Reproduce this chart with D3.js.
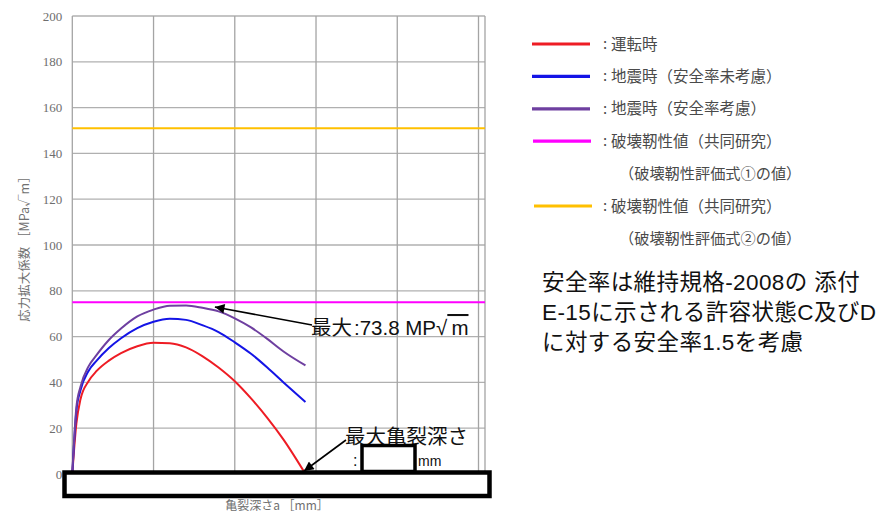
<!DOCTYPE html>
<html lang="ja">
<head>
<meta charset="UTF-8">
<title>応力拡大係数</title>
<script src="https://cdn.jsdelivr.net/npm/d3@7/dist/d3.min.js"></script>
<style>
  html, body { margin: 0; padding: 0; background: #fff; }
  svg { display: block; }
</style>
</head>
<body>
<div class="chart"></div>
<script>
  // crack depth (grid units), and K values
  const crackDepth = [0, 0.05, 0.1, 0.2, 0.3, 0.45, 0.6, 0.8, 1.0, 1.2, 1.4, 1.6, 1.8, 2.0, 2.2, 2.4, 2.6, 2.87]
  const kOperation = [0, 22, 32.5, 40.5, 45, 49.5, 52.8, 55.8, 57.3, 57.1, 55.3, 51.5, 46.5, 40.5, 33, 24.5, 15, 0]
  const kQuake = [0, 27.5, 36.5, 45, 49.5, 55, 59.3, 63.7, 66.5, 67.8, 67.3, 65, 62, 57.5, 52.5, 46.5, 40, 31.4]
  const kQuakeSafety = [0, 29, 38, 47, 52, 58.5, 63.5, 68.8, 71.8, 73.5, 73.6, 72.6, 71, 68, 64, 59, 53.5, 47.4]
  const toughness1 = 75
  const toughness2 = 151
  const yTicks = [0, 20, 40, 60, 80, 100, 120, 140, 160, 180, 200]
  const xTicks = [0, 1, 2, 3, 4, 5]
  const seriesNames = ['運転時', '地震時（安全率未考慮）', '地震時（安全率考慮）', '破壊靭性値（共同研究）', '破壊靭性値（共同研究）']
  const seriesNotes = ['', '', '', '（破壊靭性評価式①の値）', '（破壊靭性評価式②の値）']
  const noteLines = ['安全率は維持規格-2008の 添付', 'E-15に示される許容状態C及びD', 'に対する安全率1.5を考慮']

  const width = 889
  const height = 516
  const plot = { left: 72.3, right: 485, top: 16, bottom: 474 }
  const colors = ['#ee1c24', '#1414e6', '#6e3fa0', '#ff00ff', '#ffc000']

  const xScale = d3.scaleLinear().domain([0, 5.08]).range([plot.left, plot.right])
  const yScale = d3.scaleLinear().domain([0, 200]).range([plot.bottom, plot.top])

  const svg = d3.select('.chart')
    .append('svg')
    .attr('width', width)
    .attr('height', height)

  const defs = svg.append('defs')
  defs.append('marker')
    .attr('id', 'arrow')
    .attr('viewBox', '0 0 10 10')
    .attr('refX', 10)
    .attr('refY', 5)
    .attr('markerWidth', 9)
    .attr('markerHeight', 6)
    .attr('markerUnits', 'strokeWidth')
    .attr('orient', 'auto')
    .append('path')
    .attr('d', 'M0,0 L10,5 L0,10 z')
    .attr('fill', '#000')

  // grid
  const grid = svg.append('g')
  grid.selectAll('.hgrid')
    .data(yTicks)
    .enter()
    .append('line')
    .attr('x1', plot.left)
    .attr('x2', plot.right)
    .attr('y1', d => yScale(d))
    .attr('y2', d => yScale(d))
    .attr('stroke', '#b0b0b0')
    .attr('stroke-width', 1.3)
  grid.selectAll('.vgrid')
    .data(xTicks.concat([5.08]))
    .enter()
    .append('line')
    .attr('x1', d => xScale(d))
    .attr('x2', d => xScale(d))
    .attr('y1', plot.top)
    .attr('y2', plot.bottom)
    .attr('stroke', '#a4a4a4')
    .attr('stroke-width', 1.3)

  // y axis labels
  const yAxis = d3.axisLeft(yScale).tickValues(yTicks).tickSize(0).tickPadding(10)
  const gY = svg.append('g')
    .attr('transform', `translate(${plot.left}, 0)`)
    .call(yAxis)
  gY.select('.domain').remove()
  gY.selectAll('text')
    .style('font-family', '"Liberation Serif", "DejaVu Serif", serif')
    .style('font-size', '13px')
    .attr('fill', '#6e6e6e')

  svg.append('text')
    .attr('transform', `translate(29, 246) rotate(-90)`)
    .attr('text-anchor', 'middle')
    .attr('font-family', 'Noto Sans CJK JP, sans-serif')
    .attr('font-size', 12.5)
    .attr('fill', '#707070')
    .text('応力拡大係数 ［MPa√m］')

  // toughness reference lines
  svg.selectAll('.ref')
    .data([toughness1, toughness2])
    .enter()
    .append('line')
    .attr('x1', plot.left)
    .attr('x2', plot.right)
    .attr('y1', d => yScale(d))
    .attr('y2', d => yScale(d))
    .attr('stroke', (d, i) => colors[3 + i])
    .attr('stroke-width', 2)

  // K curves
  const series = [kOperation, kQuake, kQuakeSafety]
  const linePath = d3.line()
    .x((d, i) => xScale(crackDepth[i]))
    .y(d => yScale(d))
    .curve(d3.curveMonotoneX)
  svg.selectAll('.curve')
    .data(series)
    .enter()
    .append('path')
    .attr('d', d => linePath(d))
    .attr('fill', 'none')
    .attr('stroke', (d, i) => colors[i])
    .attr('stroke-width', 2)

  // big black box over the x axis
  svg.append('rect')
    .attr('x', 64.5)
    .attr('y', 472.5)
    .attr('width', 425)
    .attr('height', 23.5)
    .attr('fill', '#fff')
    .attr('stroke', '#000')
    .attr('stroke-width', 4.5)

  svg.append('text')
    .attr('x', 277)
    .attr('y', 510)
    .attr('text-anchor', 'middle')
    .attr('font-family', 'Noto Sans CJK JP, sans-serif')
    .attr('font-size', 12)
    .attr('fill', '#707070')
    .text('亀裂深さa ［mm］')

  // annotations
  const labelFont = 'Liberation Sans, Arial, Noto Sans CJK JP, sans-serif'
  const peakTip = [xScale(1.755), yScale(72.9)]
  svg.append('line')
    .attr('x1', 312)
    .attr('y1', 325)
    .attr('x2', peakTip[0])
    .attr('y2', peakTip[1])
    .attr('stroke', '#000')
    .attr('stroke-width', 1.6)
    .attr('marker-end', 'url(#arrow)')
  const maxText = svg.append('text')
    .attr('x', 311)
    .attr('y', 335)
    .attr('font-family', labelFont)
    .attr('font-size', 20.5)
    .attr('fill', '#111')
  maxText.append('tspan').text('最大')
  maxText.append('tspan').attr('dx', 2).text(':73.8 MP√')
  maxText.append('tspan').attr('text-decoration', 'overline').text('\u2009m')

  const endTip = [xScale(2.84), yScale(0)]
  svg.append('line')
    .attr('x1', 346)
    .attr('y1', 440)
    .attr('x2', endTip[0] + 1)
    .attr('y2', endTip[1] - 3)
    .attr('stroke', '#000')
    .attr('stroke-width', 1.6)
    .attr('marker-end', 'url(#arrow)')
  svg.append('text')
    .attr('x', 345)
    .attr('y', 444)
    .attr('font-family', labelFont)
    .attr('font-size', 20.5)
    .attr('fill', '#111')
    .text('最大亀裂深さ')
  svg.append('text')
    .attr('x', 353)
    .attr('y', 466)
    .attr('font-family', labelFont)
    .attr('font-size', 16)
    .attr('fill', '#111')
    .text(':')
  svg.append('rect')
    .attr('x', 362)
    .attr('y', 445.5)
    .attr('width', 53)
    .attr('height', 26)
    .attr('fill', '#fff')
    .attr('stroke', '#000')
    .attr('stroke-width', 3.5)
  svg.append('text')
    .attr('x', 418)
    .attr('y', 466)
    .attr('font-family', labelFont)
    .attr('font-size', 14)
    .attr('fill', '#111')
    .text('mm')

  // legend
  const legendTop = 44
  const rowGap = 32.4
  const legendRows = [0, 1, 2, 3, 5]
  const legendFont = 'Noto Sans CJK JP, sans-serif'
  const legend = svg.append('g')
  legendRows.forEach((row, i) => {
    const y = legendTop + row * rowGap
    legend.append('line')
      .attr('x1', 532 + (i >= 3 ? (i - 2) : 0))
      .attr('x2', 590 + (i >= 3 ? (i - 2) : 0))
      .attr('y1', y)
      .attr('y2', y)
      .attr('stroke', colors[i])
      .attr('stroke-width', 3.2)
    legend.append('text')
      .attr('x', 603)
      .attr('y', y + 5)
      .attr('font-family', legendFont)
      .attr('font-size', 15)
      .attr('fill', '#4a4a4a')
      .text(':')
    legend.append('text')
      .attr('x', 611)
      .attr('y', y + 5.5)
      .attr('font-family', legendFont)
      .attr('font-size', 15.5)
      .attr('fill', '#4a4a4a')
      .text(seriesNames[i])
    if (seriesNotes[i]) {
      legend.append('text')
        .attr('x', 619)
        .attr('y', y + rowGap + 5.5)
        .attr('font-family', legendFont)
        .attr('font-size', 15.2)
        .attr('fill', '#4a4a4a')
        .text(seriesNotes[i])
    }
  })

  // note block
  svg.selectAll('.note')
    .data(noteLines)
    .enter()
    .append('text')
    .attr('x', 542)
    .attr('y', (d, i) => 290 + i * 30)
    .attr('font-family', labelFont)
    .attr('font-size', 22.5)
    .attr('letter-spacing', 0.4)
    .attr('fill', '#111')
    .text(d => d)
</script>
</body>
</html>
